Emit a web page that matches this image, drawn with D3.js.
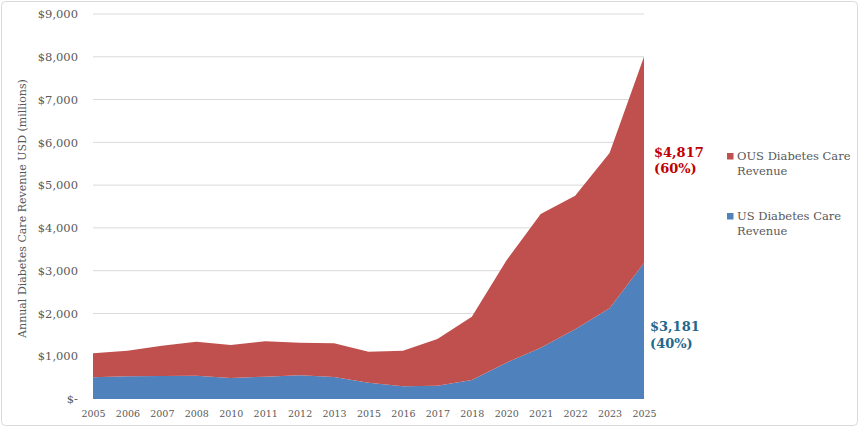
<!DOCTYPE html>
<html>
<head>
<meta charset="utf-8">
<script src="https://cdn.jsdelivr.net/npm/d3@7"></script>
<style>
  body { margin: 0; background: #fff; }
  text { font-family: "DejaVu Serif", Georgia, serif; }
</style>
</head>
<body>
<script>
(function () {

    var w = 860;
    var h = 430;

    // data (USD millions)
    var years = ["2005", "2006", "2007", "2008", "2010", "2011", "2012", "2013", "2015",
                 "2016", "2017", "2018", "2020", "2021", "2022", "2023", "2025"];
    var usRevenue = [507, 530, 537, 545, 491, 522, 553, 514, 382, 296, 311, 444, 849, 1200, 1629, 2120, 3181];
    var ousRevenue = [561, 599, 709, 795, 771, 826, 764, 787, 724, 834, 1092, 1481, 2384, 3125, 3121, 3630, 4817];
    var yTicks = [0, 1000, 2000, 3000, 4000, 5000, 6000, 7000, 8000, 9000];
    var seriesNames = ["OUS Diabetes Care Revenue", "US Diabetes Care Revenue"];

    var left = 93, right = 644, top = 14, bottom = 399;

    var svg = d3.select("body").append("svg")
        .attr("width", w)
        .attr("height", h);

    // chart frame
    svg.append("rect")
        .attr("x", 1.5).attr("y", 1.5)
        .attr("width", 856).attr("height", 424)
        .attr("rx", 4)
        .attr("fill", "#fff")
        .attr("stroke", "#d9d9d9");

    var x = d3.scalePoint().domain(years).range([left, right]);
    var y = d3.scaleLinear().domain([0, 9000]).range([bottom, top]);

    // gridlines
    svg.append("g").selectAll("line")
        .data(yTicks.slice(1))
        .enter().append("line")
        .attr("x1", left).attr("x2", right)
        .attr("y1", function (d) { return y(d); })
        .attr("y2", function (d) { return y(d); })
        .attr("stroke", "#d9d9d9")
        .attr("stroke-width", 1);

    var rows = years.map(function (yr, i) {
        return { year: yr, us: usRevenue[i], ous: ousRevenue[i] };
    });

    var layers = d3.stack().keys(["us", "ous"])(rows);
    var colors = { us: "#4f81bd", ous: "#c0504d" };

    var area = d3.area()
        .x(function (d) { return x(d.data.year); })
        .y0(function (d) { return y(d[0]); })
        .y1(function (d) { return y(d[1]); });

    svg.selectAll("path.layer")
        .data(layers)
        .enter().append("path")
        .attr("class", "layer")
        .attr("d", area)
        .attr("fill", function (d) { return colors[d.key]; });

    // y axis
    var yAxis = d3.axisLeft(y)
        .tickValues(yTicks)
        .tickSize(0)
        .tickPadding(15)
        .tickFormat(function (d) { return d === 0 ? "$-" : "$" + d3.format(",")(d); });
    var gy = svg.append("g")
        .attr("transform", "translate(" + left + ",0)")
        .call(yAxis);
    gy.select(".domain").remove();
    gy.selectAll("text")
        .attr("font-family", "DejaVu Serif")
        .attr("font-size", 11.5)
        .attr("fill", "#595959");

    // x axis
    var xAxis = d3.axisBottom(x).tickSize(0).tickPadding(11);
    var gx = svg.append("g")
        .attr("transform", "translate(0," + bottom + ")")
        .call(xAxis);
    gx.select(".domain").remove();
    gx.selectAll("text")
        .attr("font-family", "DejaVu Serif")
        .attr("font-size", 9.5)
        .attr("fill", "#595959");

    // y axis title
    svg.append("text")
        .attr("transform", "translate(26," + ((top + bottom) / 2 + 2) + ") rotate(-90)")
        .attr("text-anchor", "middle")
        .attr("font-size", 11)
        .attr("fill", "#595959")
        .text("Annual Diabetes Care Revenue USD (millions)");

    // end labels
    var last = years.length - 1;
    var total = usRevenue[last] + ousRevenue[last];
    function pct(v) { return "(" + Math.round(v / total * 100) + "%)"; }

    var ousLabel = svg.append("text")
        .attr("x", right + 10).attr("y", 157)
        .attr("font-size", 13).attr("font-weight", "bold")
        .attr("fill", "#c00000");
    ousLabel.append("tspan").text("$" + d3.format(",")(ousRevenue[last]));
    ousLabel.append("tspan").attr("x", right + 10).attr("dy", 16).text(pct(ousRevenue[last]));

    var usLabel = svg.append("text")
        .attr("x", right + 6).attr("y", 331)
        .attr("font-size", 13).attr("font-weight", "bold")
        .attr("fill", "#22688c");
    usLabel.append("tspan").text("$" + d3.format(",")(usRevenue[last]));
    usLabel.append("tspan").attr("x", right + 6).attr("dy", 17).text(pct(usRevenue[last]));

    // legend
    var legend = svg.append("g").attr("transform", "translate(727,0)");
    var items = legend.selectAll("g")
        .data([{ name: seriesNames[0], key: "ous", y: 160 }, { name: seriesNames[1], key: "us", y: 220 }])
        .enter().append("g");
    items.append("rect")
        .attr("x", 0).attr("y", function (d) { return d.y - 7; })
        .attr("width", 6.5).attr("height", 6.5)
        .attr("fill", function (d) { return colors[d.key]; });
    var lt = items.append("text")
        .attr("x", 10).attr("y", function (d) { return d.y; })
        .attr("font-size", 11.5)
        .attr("fill", "#595959");
    lt.append("tspan").text(function (d) { return d.name.replace(" Revenue", ""); });
    lt.append("tspan").attr("x", 10).attr("dy", 14.5).text("Revenue");
})();
</script>
</body>
</html>
